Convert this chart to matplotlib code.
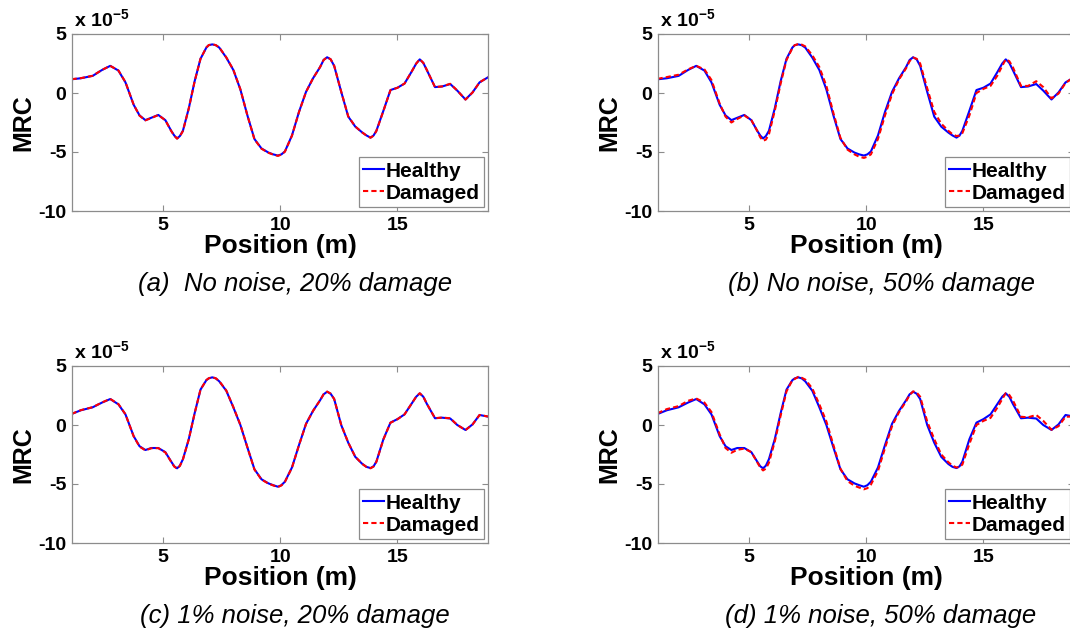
import numpy as np
import matplotlib
matplotlib.use("Agg")
import matplotlib.pyplot as plt

plt.rcParams["font.family"] = ["Liberation Sans", "DejaVu Sans"]
plt.rcParams["axes.unicode_minus"] = False
plt.rcParams["mathtext.fontset"] = "custom"
plt.rcParams["mathtext.rm"] = "Liberation Sans:bold"
plt.rcParams["mathtext.bf"] = "Liberation Sans:bold"
plt.rcParams["mathtext.default"] = "regular"

# position along the beam (m)
pos = [1.1, 1.5, 2.0, 2.4, 2.75, 3.1, 3.4, 3.75, 4.0, 4.25, 4.5, 4.8,
       5.1, 5.35, 5.48, 5.6, 5.72, 5.85, 6.1, 6.35, 6.6, 6.85, 6.95, 7.1,
       7.25, 7.4, 7.7, 8.0, 8.3, 8.6, 8.9, 9.2, 9.5, 9.7, 9.9, 10.05,
       10.2, 10.5, 10.8, 11.1, 11.4, 11.7, 11.85, 12.0, 12.15, 12.3, 12.6, 12.9,
       13.2, 13.5, 13.68, 13.85, 13.98, 14.1, 14.4, 14.7, 15.0, 15.3, 15.6, 15.8,
       15.95, 16.1, 16.25, 16.6, 16.9, 17.25, 17.55, 17.9, 18.2, 18.5, 18.86]

# MRC values, units of 1e-5
healthy_a = [1.16, 1.25, 1.45, 1.95, 2.3, 1.9, 0.9, -1.0, -1.9, -2.3, -2.1, -1.86,
             -2.3, -3.2, -3.6, -3.85, -3.65, -3.2, -1.3, 1.0, 2.9, 3.85, 4.05, 4.12,
             4.05, 3.85, 3.0, 1.95, 0.3, -1.9, -3.9, -4.7, -5.05, -5.2, -5.3, -5.2,
             -4.95, -3.6, -1.6, 0.1, 1.25, 2.2, 2.8, 3.03, 2.85, 2.3, 0.1, -2.0,
             -2.85, -3.35, -3.6, -3.78, -3.6, -3.2, -1.5, 0.25, 0.45, 0.8, 1.8, 2.5,
             2.85, 2.55, 1.95, 0.5, 0.55, 0.76, 0.2, -0.55, 0.05, 0.9, 1.33]
damaged_a = [1.17, 1.26, 1.46, 1.96, 2.3, 1.91, 0.92, -0.99, -1.92, -2.32, -2.12, -1.87,
             -2.31, -3.22, -3.62, -3.87, -3.67, -3.22, -1.31, 0.99, 2.9, 3.86, 4.06, 4.13,
             4.06, 3.86, 3.02, 1.97, 0.32, -1.9, -3.92, -4.72, -5.07, -5.22, -5.33, -5.22,
             -4.97, -3.62, -1.61, 0.09, 1.25, 2.2, 2.8, 3.03, 2.86, 2.31, 0.12, -1.98,
             -2.84, -3.35, -3.61, -3.79, -3.62, -3.22, -1.52, 0.24, 0.44, 0.8, 1.8, 2.5,
             2.86, 2.56, 1.96, 0.5, 0.56, 0.78, 0.21, -0.56, 0.04, 0.9, 1.34]
healthy_b = healthy_a
damaged_b = [1.2, 1.35, 1.55, 2.0, 2.3, 2.0, 1.1, -0.9, -2.0, -2.5, -2.2, -1.9,
             -2.3, -3.2, -3.75, -4.05, -3.95, -3.5, -1.5, 0.8, 2.8, 3.8, 4.05, 4.15,
             4.1, 3.95, 3.2, 2.2, 0.6, -1.7, -3.8, -4.8, -5.2, -5.4, -5.5, -5.4,
             -5.2, -3.9, -1.9, -0.1, 1.15, 2.1, 2.7, 3.0, 2.9, 2.5, 0.4, -1.6,
             -2.6, -3.2, -3.5, -3.65, -3.6, -3.4, -1.9, 0.0, 0.35, 0.6, 1.5, 2.3,
             2.85, 2.7, 2.2, 0.6, 0.6, 1.0, 0.5, -0.45, -0.05, 0.85, 1.35]
healthy_c = [0.93, 1.25, 1.5, 1.9, 2.2, 1.75, 0.9, -0.95, -1.8, -2.12, -1.95, -1.95,
             -2.3, -3.1, -3.5, -3.67, -3.45, -2.9, -1.2, 1.0, 3.0, 3.8, 3.95, 4.04,
             3.95, 3.7, 2.9, 1.5, 0.0, -1.9, -3.75, -4.6, -4.95, -5.1, -5.23, -5.1,
             -4.8, -3.6, -1.7, 0.1, 1.2, 2.1, 2.6, 2.82, 2.65, 2.2, 0.0, -1.5,
             -2.7, -3.3, -3.55, -3.65, -3.5, -3.1, -1.2, 0.2, 0.5, 0.9, 1.8, 2.4,
             2.68, 2.4, 1.8, 0.57, 0.62, 0.55, 0.0, -0.42, 0.05, 0.85, 0.71]
damaged_c = [0.94, 1.26, 1.51, 1.91, 2.21, 1.77, 0.91, -0.96, -1.83, -2.15, -1.97, -1.96,
             -2.32, -3.12, -3.52, -3.7, -3.47, -2.92, -1.21, 0.99, 3.0, 3.81, 3.96, 4.05,
             3.96, 3.72, 2.92, 1.52, 0.02, -1.9, -3.77, -4.62, -4.97, -5.12, -5.26, -5.12,
             -4.82, -3.62, -1.71, 0.09, 1.2, 2.1, 2.61, 2.83, 2.66, 2.21, 0.02, -1.49,
             -2.69, -3.3, -3.56, -3.67, -3.52, -3.12, -1.22, 0.19, 0.49, 0.9, 1.8, 2.41,
             2.69, 2.41, 1.81, 0.58, 0.63, 0.57, 0.01, -0.43, 0.04, 0.85, 0.72]
healthy_d = healthy_c
damaged_d = [1.0, 1.35, 1.6, 2.05, 2.25, 1.9, 1.1, -0.8, -1.95, -2.35, -2.1, -2.0,
             -2.3, -3.15, -3.6, -3.85, -3.7, -3.2, -1.4, 0.8, 2.85, 3.8, 3.9, 4.08,
             4.0, 3.85, 3.1, 1.75, 0.3, -1.7, -3.7, -4.75, -5.15, -5.3, -5.45, -5.35,
             -5.05, -3.9, -1.95, -0.1, 1.1, 2.0, 2.55, 2.85, 2.75, 2.4, 0.3, -1.2,
             -2.5, -3.15, -3.45, -3.6, -3.55, -3.35, -1.6, 0.0, 0.35, 0.6, 1.5, 2.2,
             2.7, 2.55, 2.1, 0.7, 0.65, 0.85, 0.35, -0.4, -0.1, 0.7, 0.72]

captions = ["(a)  No noise, 20% damage", "(b) No noise, 50% damage",
            "(c) 1% noise, 20% damage", "(d) 1% noise, 50% damage"]
panels = [(healthy_a, damaged_a), (healthy_b, damaged_b),
          (healthy_c, damaged_c), (healthy_d, damaged_d)]

W, H = 1070, 632
fig = plt.figure(figsize=(W / 100, H / 100), dpi=100)
boxes = [(72, 34), (658, 34), (72, 366), (658, 366)]
aw, ah = 416, 177
frame = "#8c8c8c"

for (px, py), (hv, dv), cap in zip(boxes, panels, captions):
    ax = fig.add_axes([px / W, 1 - (py + ah) / H, aw / W, ah / H])
    ax.plot(pos, hv, color="#0000ff", lw=1.5, label="Healthy")
    ax.plot(pos, dv, color="#ff0000", lw=1.5, ls=(0, (2.5, 1.5)), label="Damaged")
    ax.set_xlim(1.12, 18.86)
    ax.set_ylim(-10, 5)
    ax.set_xticks([5, 10, 15])
    ax.set_yticks([-10, -5, 0, 5])
    ax.tick_params(direction="in", top=True, right=True, length=4, color=frame,
                   labelsize=14, pad=4)
    for lab in ax.get_xticklabels() + ax.get_yticklabels():
        lab.set_fontweight("bold")
    for s in ax.spines.values():
        s.set_color(frame)
        s.set_linewidth(0.9)
    ax.set_xlabel("Position (m)", fontsize=19, fontweight="bold", labelpad=0)
    ax.set_ylabel("MRC", fontsize=18, fontweight="bold", labelpad=2)
    ax.text(0.005, 1.02, r"x 10$^{-5}$", transform=ax.transAxes, fontsize=14,
            fontweight="bold", ha="left", va="bottom")
    leg = ax.legend(loc="lower right", prop={"weight": "bold", "size": 15},
                    handlelength=1.0, handletextpad=0.1, borderpad=0.2,
                    labelspacing=0.15, borderaxespad=0.2, fancybox=False, framealpha=1)
    leg.get_frame().set_edgecolor(frame)
    leg.get_frame().set_linewidth(0.9)
    cx = px + aw / 2 + 15
    fig.text(cx / W, 1 - (py + 250) / H, cap, fontsize=18.5, style="italic",
             ha="center", va="center")

fig.savefig("out.png", dpi=100)
